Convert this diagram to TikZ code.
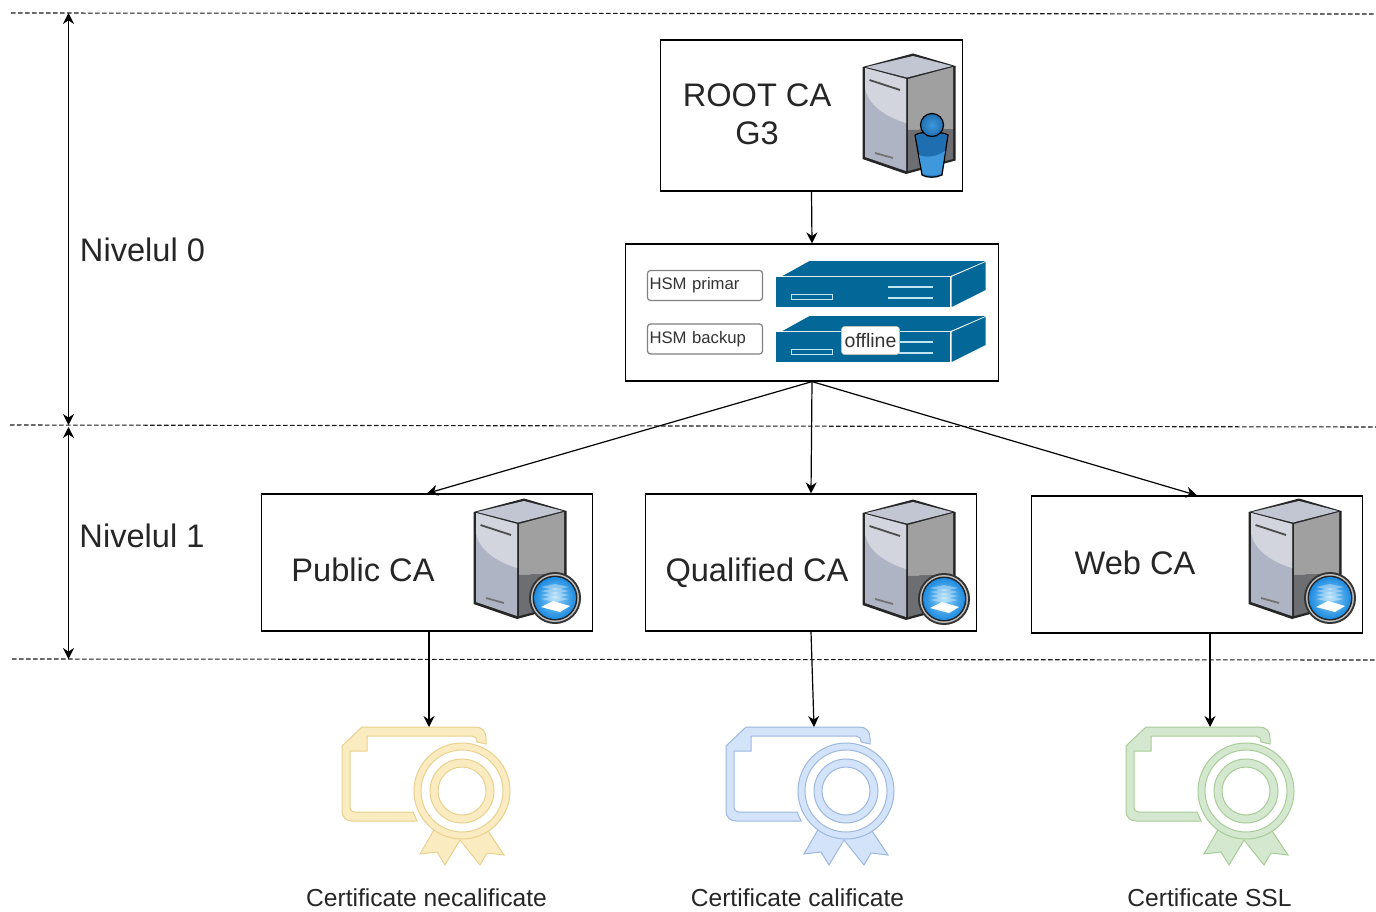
\documentclass[tikz,border=0pt]{standalone}
\usepackage{fontspec}
\setmainfont{Liberation Sans}
\usetikzlibrary{arrows.meta}

\definecolor{hsmblue}{HTML}{036897}
\definecolor{hsmline}{HTML}{BFE6F2}
\definecolor{certyellow}{HTML}{FBEBC0}
\definecolor{lineyellow}{HTML}{E8D08E}
\definecolor{certblue}{HTML}{D3E3FA}
\definecolor{lineblue}{HTML}{9DB8DE}
\definecolor{certgreen}{HTML}{D4E8CF}
\definecolor{linegreen}{HTML}{A8CC98}
\definecolor{srvtop}{HTML}{C2C6D2}
\definecolor{srvlight}{HTML}{D2D5DE}
\definecolor{srvleft}{HTML}{AEB4C4}
\definecolor{srvright}{HTML}{A0A0A0}
\definecolor{srvdark}{HTML}{6C6E72}
\definecolor{usrdark}{HTML}{1F6FB0}
\definecolor{usrlight}{HTML}{3F97DC}
\definecolor{badgeout}{HTML}{1E8BE0}
\definecolor{badgein}{HTML}{8FD2F8}

\tikzset{
    box/.style={draw, line width=1.2pt, fill=white, minimum width=#1, inner sep=0pt},
    bigtext/.style={font=\fontsize{32.6}{38.5}\selectfont, text=black!85, align=center, inner sep=0pt},
    certtext/.style={font=\fontsize{24.6}{29}\selectfont, text=black!85, inner sep=0pt},
    hsmtag/.style={draw=black!50, line width=1.2pt, rounded corners=3pt, fill=white, minimum width=115pt, minimum height=30pt,
        text=black!80, font=\fontsize{16.7}{20}\selectfont, inner sep=0pt},
    level/.style={line width=1.1pt, black!90, dash pattern=on 4.5pt off 2.5pt},
    link/.style={-{Stealth[length=11pt, width=11pt]}, line width=1.2pt},
    span/.style={{Stealth[length=11pt, width=11pt]}-{Stealth[length=11pt, width=11pt]}, line width=1.2pt},
    servericon/.pic={
        \fill[black!85] (49,-1.5) -- (91.5,11) -- (91.5,105.5) -- (42,119) -- (-1.5,104) -- (-1.5,12) -- cycle;
        \fill[srvleft] (1,13) -- (42,24) -- (42,116) -- (1,102) -- cycle;
        \fill[srvlight] (1,13) -- (42,24) -- (42,68) .. controls (22,62) and (4,50) .. (1,33) -- cycle;
        \fill[srvright] (44,24) -- (89,12) -- (89,74) -- (44,75) -- cycle;
        \fill[srvdark] (44,75) -- (89,74) -- (89,104) -- (44,116) -- cycle;
        \fill[srvtop] (49,1) -- (88,11) -- (43,22.5) -- (2,12) -- cycle;
        \draw[line width=1.8pt, black!70] (5.5,25) -- (36,35);
        \draw[line width=1.8pt, black!55] (11,98) -- (29,103);
    },
    usericon/.pic={
        \draw[black, line width=1.2pt, fill=usrdark] (51,80) .. controls (57,76) and (78,76) .. (84,80)
            -- (78,120) .. controls (72,123) and (63,123) .. (58,120) -- cycle;
        \fill[usrlight] (55,100) .. controls (65,104) and (75,100) .. (81,96) -- (77,119) .. controls (72,121) and (63,121) .. (59,119) -- cycle;
        \draw[black, line width=1.2pt, inner color=usrlight, outer color=usrdark] (68,70) circle (11.5);
    },
    badgeicon/.pic={
        \fill[black!80] (80,98) circle (26);
        \fill[black!25] (80,98) circle (24);
        \fill[black!85] (80,98) circle (22.5);
        \fill[inner color=badgein, outer color=badgeout] (80,98) circle (21);
        \foreach \sheet in {-11,-7,-3,1}
            \fill[white, opacity=0.35] (66,98+\sheet) -- (80,98+\sheet-3) -- (94,98+\sheet) -- (80,98+\sheet+3) -- cycle;
        \fill[white] (66,107) -- (78,101) -- (95,106) -- (85,112) -- cycle;
    },
    hsmicon/.pic={
        \fill[hsmblue] (0,16) -- (174,16) -- (174,46) -- (0,46) -- cycle;
        \fill[hsmblue] (7,15) -- (34,0) -- (210,0) -- (175,15) -- cycle;
        \fill[hsmblue] (176,16) -- (210,1) -- (210,29) -- (176,46) -- cycle;
        \draw[hsmline, line width=1.5pt] (16,33.5) rectangle (57,38.5);
        \draw[hsmline, line width=1.5pt] (112,26) -- (157,26) (112,37) -- (157,37);
    },
    certicon/.pic={
        \path[pic actions, line width=1pt] (93,101) -- (78,127) -- (95,125) -- (103,138) -- (118,113)
            -- (138,138) -- (145,126) -- (162,128) -- (146,104) -- cycle;
        \path[pic actions, line width=1pt] (144,17) -- (144,11) .. controls (144,4) and (140,0) .. (133,0)
            -- (20,0) -- (0,19) -- (0,84) .. controls (0,90) and (4,94) .. (10,94) -- (75,94) -- (71,85) -- (13,85)
            .. controls (10,85) and (8,83) .. (8,81) -- (8,24) -- (25,24) -- (25,9) -- (130,9)
            .. controls (133,9) and (135,11) .. (135,15) -- cycle;
        \path[pic actions, line width=1pt] (120,64) circle (48);
        \path[pic actions, line width=1pt, fill=white] (120,64) circle (41);
        \path[pic actions, line width=1pt] (120,64) circle (32);
        \path[pic actions, line width=1pt, fill=white] (120,64) circle (24);
    }
}

\begin{document}
\begin{tikzpicture}[x=1pt, y=-1pt]
    \useasboundingbox (0,0) rectangle (1376,912);

    % levels
    \coordinate (topl) at (11,13);
    \coordinate (topr) at (1376,14);
    \coordinate (midl) at (10,425);
    \coordinate (midr) at (1376,427);
    \coordinate (botl) at (12,659);
    \coordinate (botr) at (1376,660);
    \draw[level] (topl) -- (topr);
    \draw[level] (midl) -- (midr);
    \draw[level] (botl) -- (botr);

    \coordinate (lvltop) at (68.5,13);
    \coordinate (lvlmida) at (68.5,425);
    \coordinate (lvlmidb) at (68.5,427);
    \coordinate (lvlbot) at (68.5,659);
    \draw[span] (lvltop) -- (lvlmida);
    \draw[span] (lvlmidb) -- (lvlbot);
    \node[bigtext] (nivel0) at (142.5,250) {Nivelul 0};
    \node[bigtext] (nivel1) at (142,536) {Nivelul 1};

    % boxes
    \node[box=302pt, minimum height=151pt] (rootca) at (811.5,115.5) {};
    \node[box=373pt, minimum height=137pt] (hsm) at (812,312.5) {};
    \node[box=331pt, minimum height=137pt] (publicca) at (427,562.5) {};
    \node[box=331pt, minimum height=137pt] (qualifiedca) at (811,562.5) {};
    \node[box=331pt, minimum height=137pt] (webca) at (1197,564.5) {};

    \node[bigtext] (rootlabel) at (757,114.5) {ROOT CA\\G3};
    \node[bigtext] (publiclabel) at (363,570) {Public CA};
    \node[bigtext, text depth=0pt] (qualifiedlabel) at (757,570) {Qualified CA};
    \node[bigtext] (weblabel) at (1135,563) {Web CA};

    % icons
    \pic at (864,55) {servericon};
    \pic at (864,55) {usericon};
    \pic at (475,500) {servericon};
    \pic at (475,500) {badgeicon};
    \pic at (864,501) {servericon};
    \pic at (864,501) {badgeicon};
    \pic at (1250,500) {servericon};
    \pic at (1250,500) {badgeicon};

    \pic at (775.5,261) {hsmicon};
    \pic at (775.5,316) {hsmicon};
    \node[hsmtag, text width=111pt] (primar) at (705,285.5) {HSM primar};
    \node[hsmtag, text width=111pt] (backup) at (705,339) {HSM backup};
    \node[draw=black!25, line width=0.6pt, fill=white, rounded corners=3pt, minimum width=58pt, minimum height=28pt, inner sep=0pt,
        font=\fontsize{19.5}{23}\selectfont, text=black!80] (offline) at (870.5,340.5) {offline};

    % certificates
    \pic[fill=certyellow, draw=lineyellow] at (342,727) {certicon};
    \pic[fill=certblue, draw=lineblue] at (726,727) {certicon};
    \pic[fill=certgreen, draw=linegreen] at (1126,727) {certicon};
    \coordinate (certpublic) at (429,727);
    \coordinate (certqualified) at (814,727);
    \coordinate (certweb) at (1210,727);
    \node[certtext] (textpublic) at (426.5,898) {Certificate necalificate};
    \node[certtext] (textqualified) at (797.5,898) {Certificate calificate};
    \node[certtext] (textweb) at (1209.5,898) {Certificate SSL};

    % links
    \draw[link] (rootca.south) -- (hsm.north);
    \draw[link] (hsm.south) -- (publicca.north);
    \draw[link] (hsm.south) -- (qualifiedca.north);
    \draw[link] (hsm.south) -- (webca.north);
    \draw[link] (publicca.south -| certpublic) -- (certpublic);
    \draw[link] (qualifiedca.south) -- (certqualified);
    \draw[link] (webca.south -| certweb) -- (certweb);
\end{tikzpicture}
\end{document}
